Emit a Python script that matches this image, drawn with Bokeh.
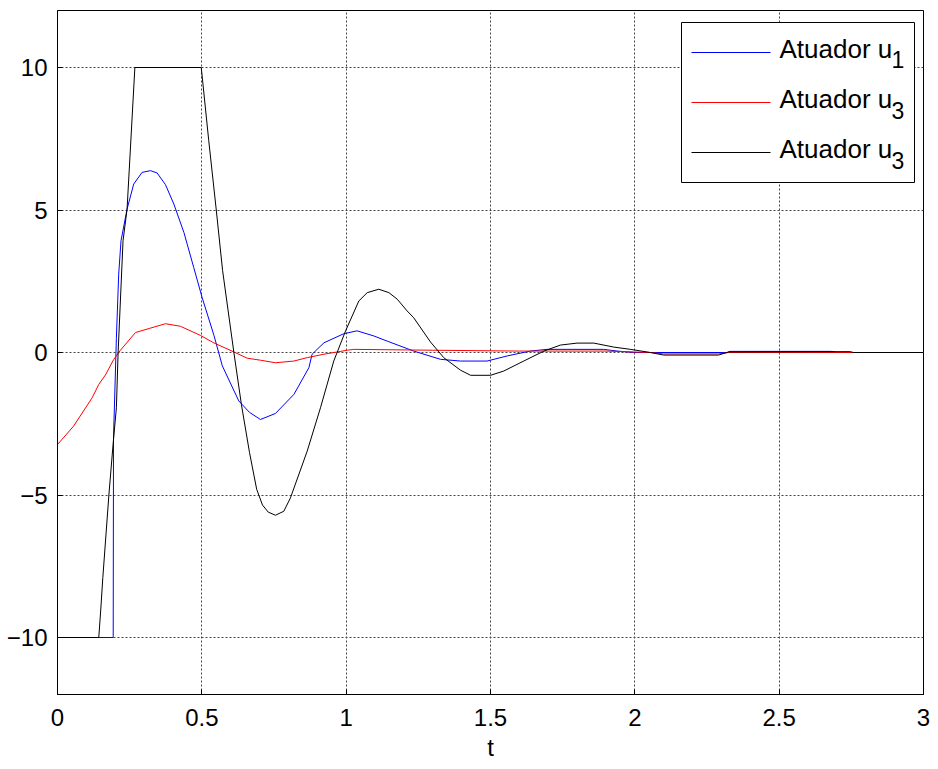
from bokeh.plotting import figure
from bokeh.models import FixedTicker, Range1d, Label, BoxAnnotation, Arrow
from bokeh.embed import file_html
from bokeh.resources import INLINE

# Atuador u1 (blue)
t_u1 = [0, 0.193, 0.194, 0.204, 0.212, 0.220, 0.241, 0.264, 0.293, 0.322, 0.345, 0.374,
        0.403, 0.438, 0.472, 0.501, 0.542, 0.571, 0.628, 0.665, 0.703, 0.755, 0.819,
        0.871, 0.882, 0.923, 0.992, 1.038, 1.096, 1.142, 1.234, 1.327, 1.396, 1.488,
        1.558, 1.638, 1.696, 1.892, 1.939, 1.996, 2.32, 2.33, 2.68, 2.70, 3.0]
y_u1 = [-10, -10, -3.0, 0.5, 2.75, 3.92, 5.03, 5.91, 6.32, 6.38, 6.30, 5.89,
        5.21, 4.21, 2.98, 1.93, 0.6, -0.47, -1.70, -2.1, -2.35, -2.14, -1.47,
        -0.53, -0.06, 0.34, 0.66, 0.76, 0.58, 0.40, 0.05, -0.24, -0.30, -0.30,
        -0.12, 0.05, 0.11, 0.11, 0.05, 0.0, 0.0, 0.04, 0.04, 0.0, 0.0]

# Atuador u3 (red)
t_u3r = [0, 0.056, 0.12, 0.143, 0.166, 0.195, 0.218, 0.27, 0.32, 0.374, 0.426, 0.495,
         0.541, 0.611, 0.657, 0.703, 0.755, 0.819, 0.865, 0.923, 1.004, 1.026, 1.3,
         1.6, 1.9, 2.054, 2.10, 2.29, 2.325, 3.0]
y_u3r = [-3.23, -2.58, -1.59, -1.12, -0.79, -0.24, 0.08, 0.70, 0.85, 1.01, 0.92, 0.6,
         0.34, 0.02, -0.2, -0.27, -0.36, -0.30, -0.18, -0.06, 0.08, 0.11, 0.08,
         0.05, 0.05, 0.0, -0.05, -0.05, 0.0, 0.0]

# Atuador u3 (black)
t_u3k = [0, 0.143, 0.150, 0.157, 0.178, 0.193, 0.204, 0.210, 0.227, 0.241, 0.268, 0.498,
         0.524, 0.55, 0.572, 0.611, 0.637, 0.665, 0.69, 0.71, 0.73, 0.755, 0.784, 0.807,
         0.865, 0.911, 0.957, 0.998, 1.044, 1.073, 1.113, 1.148, 1.177, 1.211, 1.234,
         1.292, 1.338, 1.396, 1.431, 1.5, 1.546, 1.615, 1.685, 1.742, 1.80, 1.858,
         1.927, 1.985, 2.054, 2.10, 2.29, 2.325, 2.747, 2.757, 3.0]
y_u3k = [-10, -10, -9.0, -7.9, -5.0, -3.17, -1.94, 0.0, 3.92, 5.03, 10, 10,
         7.43, 5.0, 2.87, 0.0, -1.82, -3.5, -4.8, -5.35, -5.6, -5.71, -5.57, -5.1,
         -3.46, -1.94, -0.30, 0.76, 1.81, 2.10, 2.22, 2.10, 1.87, 1.46, 1.22,
         0.37, -0.18, -0.62, -0.80, -0.80, -0.65, -0.30, 0.05, 0.26, 0.33, 0.33,
         0.19, 0.11, 0.0, -0.09, -0.09, 0.02, 0.03, 0.0, 0.0]

x_ticks = [0, 0.5, 1, 1.5, 2, 2.5, 3]
y_ticks = [-10, -5, 0, 5, 10]
legend_base = "Atuador u"
legend_subs = ["1", "3", "3"]
series_colors = ["#0000ff", "#ff0000", "black"]

FONT = "Liberation Sans"

p = figure(frame_width=866, frame_height=684, output_backend="svg", toolbar_location=None,
           x_range=Range1d(0, 3), y_range=Range1d(-12, 12),
           min_border_left=57, min_border_right=15, min_border_top=10, min_border_bottom=75)
p.background_fill_color = "white"
p.border_fill_color = "white"
p.outline_line_color = "black"
p.outline_line_width = 1

p.line(t_u1, y_u1, line_color=series_colors[0], line_width=1)
p.line(t_u3r, y_u3r, line_color=series_colors[1], line_width=1)
p.line(t_u3k, y_u3k, line_color=series_colors[2], line_width=1)

for ax in (p.xaxis[0], p.yaxis[0]):
    ax.major_tick_in = 5
    ax.major_tick_out = 0
    ax.minor_tick_in = 0
    ax.minor_tick_out = 0
    ax.axis_line_color = "black"
    ax.major_tick_line_color = "black"
    ax.major_label_text_font = FONT
    ax.major_label_text_font_size = "24px"
    ax.major_label_text_color = "black"

p.xaxis.ticker = FixedTicker(ticks=x_ticks)
p.yaxis.ticker = FixedTicker(ticks=y_ticks)
p.xaxis.major_label_overrides = {0: "0", 1: "1", 2: "2", 3: "3"}
p.xaxis.major_label_standoff = 14
p.yaxis.major_label_standoff = 10
p.xaxis.axis_label = "t"
p.xaxis.axis_label_text_font = FONT
p.xaxis.axis_label_text_font_size = "24px"
p.xaxis.axis_label_text_font_style = "normal"
p.xaxis.axis_label_text_color = "black"
p.xaxis.axis_label_standoff = 5

for g in (p.xgrid[0], p.ygrid[0]):
    g.grid_line_color = "#444444"
    g.grid_line_dash = "2 2"
    g.grid_line_width = 1

# legend built from annotations (screen units relative to the frame, y upward)
p.add_layout(BoxAnnotation(left=624, right=857, bottom=512, top=672,
                           left_units="screen", right_units="screen",
                           bottom_units="screen", top_units="screen",
                           fill_color="white", fill_alpha=1.0,
                           line_color="black", line_width=1, line_alpha=1.0))
row_y = [642, 592, 542]
base_y = [646, 596, 546]
sub_y = [635, 584, 534]
for i in range(3):
    p.add_layout(Arrow(start=None, end=None, x_start=634, x_end=713,
                       y_start=row_y[i], y_end=row_y[i],
                       start_units="screen", end_units="screen",
                       line_color=series_colors[i], line_width=1))
    p.add_layout(Label(x=722, y=base_y[i], x_units="screen", y_units="screen",
                       text=legend_base, text_font=FONT, text_font_size="26px",
                       text_baseline="alphabetic", text_color="black"))
    p.add_layout(Label(x=834, y=sub_y[i], x_units="screen", y_units="screen",
                       text=legend_subs[i], text_font=FONT, text_font_size="23px",
                       text_baseline="alphabetic", text_color="black"))

open("out.html", "w").write(file_html(p, INLINE))
